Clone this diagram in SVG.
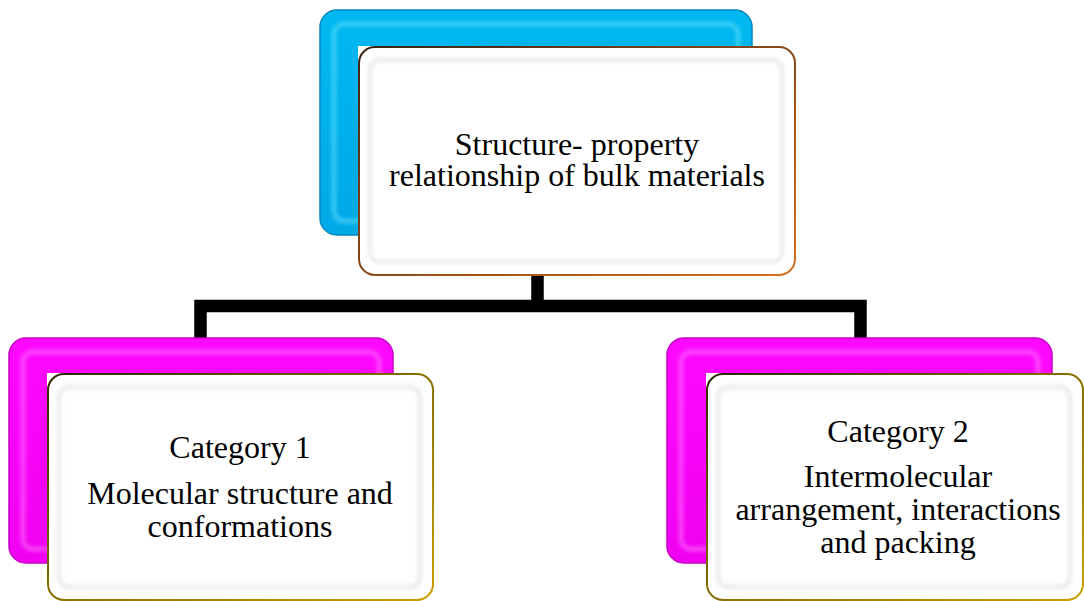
<svg xmlns="http://www.w3.org/2000/svg" width="1084" height="601" viewBox="0 0 1084 601">
<style>
.txt{font-family:"Liberation Serif","Times New Roman",serif;font-size:32px;fill:#000;text-anchor:middle}
.conn{fill:none;stroke:#000;stroke-width:12.5;stroke-linejoin:miter;stroke-linecap:butt}
.face{fill:#fff}
.bevel{fill:none;stroke:#e2e2e2;stroke-width:3;filter:url(#blur)}
.hl{fill:none;stroke-width:4;filter:url(#blur)}
</style>
<defs>
<filter id="blur" x="-5%" y="-5%" width="110%" height="110%"><feGaussianBlur stdDeviation="2"/></filter>
<linearGradient id="blueG" x1="0" y1="0" x2="0" y2="1">
<stop offset="0" stop-color="#00B8F2"/><stop offset="1" stop-color="#00A8E6"/>
</linearGradient>
<linearGradient id="magG" x1="0" y1="0" x2="0" y2="1">
<stop offset="0" stop-color="#FF08FF"/><stop offset="1" stop-color="#F000F0"/>
</linearGradient>
<linearGradient id="brownS" x1="0" y1="0" x2="1" y2="1">
<stop offset="0" stop-color="#3a2210"/><stop offset="0.5" stop-color="#8a4a18"/><stop offset="1" stop-color="#D8701E"/>
</linearGradient>
<linearGradient id="goldS" x1="0" y1="0" x2="1" y2="1">
<stop offset="0" stop-color="#2e2600"/><stop offset="0.5" stop-color="#8a7000"/><stop offset="1" stop-color="#C8A000"/>
</linearGradient>
</defs>

<g id="connectors">
<path class="conn" d="M537.5 275 V306"/>
<path class="conn" d="M200.5 338 V306 H860.5 V338"/>
</g>

<g id="node-top">
<rect x="320" y="10" width="432" height="225" rx="17" fill="url(#blueG)" stroke="#0088BE" stroke-width="1.5"/>
<rect x="334" y="24" width="404" height="197" rx="10" class="hl" stroke="#70E8FF" stroke-opacity="0.6"/>
<rect x="358" y="46" width="40" height="40" fill="#fff"/>
<rect x="359" y="47" width="436" height="228" rx="16" class="face" stroke="url(#brownS)" stroke-width="2"/>
<rect x="370" y="60" width="412" height="202" rx="10" class="bevel"/>
<text class="txt" x="577" y="155">Structure- property</text>
<text class="txt" x="577" y="186">relationship of bulk materials</text>
</g>

<g id="node-cat1">
<rect x="9" y="338" width="384" height="225" rx="17" fill="url(#magG)" stroke="#C800C8" stroke-width="1.5"/>
<rect x="23" y="352" width="356" height="197" rx="10" class="hl" stroke="#FF88FF" stroke-opacity="0.6"/>
<rect x="47" y="373" width="40" height="40" fill="#fff"/>
<rect x="48" y="374" width="385" height="226" rx="16" class="face" stroke="url(#goldS)" stroke-width="2"/>
<rect x="59" y="387" width="361" height="200" rx="10" class="bevel"/>
<text class="txt" x="240" y="458">Category 1</text>
<text class="txt" x="240" y="504">Molecular structure and</text>
<text class="txt" x="240" y="537">conformations</text>
</g>

<g id="node-cat2">
<rect x="667" y="338" width="385" height="225" rx="17" fill="url(#magG)" stroke="#C800C8" stroke-width="1.5"/>
<rect x="681" y="352" width="357" height="197" rx="10" class="hl" stroke="#FF88FF" stroke-opacity="0.6"/>
<rect x="706" y="373" width="40" height="40" fill="#fff"/>
<rect x="707" y="374" width="376" height="226" rx="16" class="face" stroke="url(#goldS)" stroke-width="2"/>
<rect x="718" y="387" width="352" height="200" rx="10" class="bevel"/>
<text class="txt" x="898" y="442">Category 2</text>
<text class="txt" x="898" y="487">Intermolecular</text>
<text class="txt" x="898" y="520">arrangement, interactions</text>
<text class="txt" x="898" y="553">and packing</text>
</g>
</svg>
